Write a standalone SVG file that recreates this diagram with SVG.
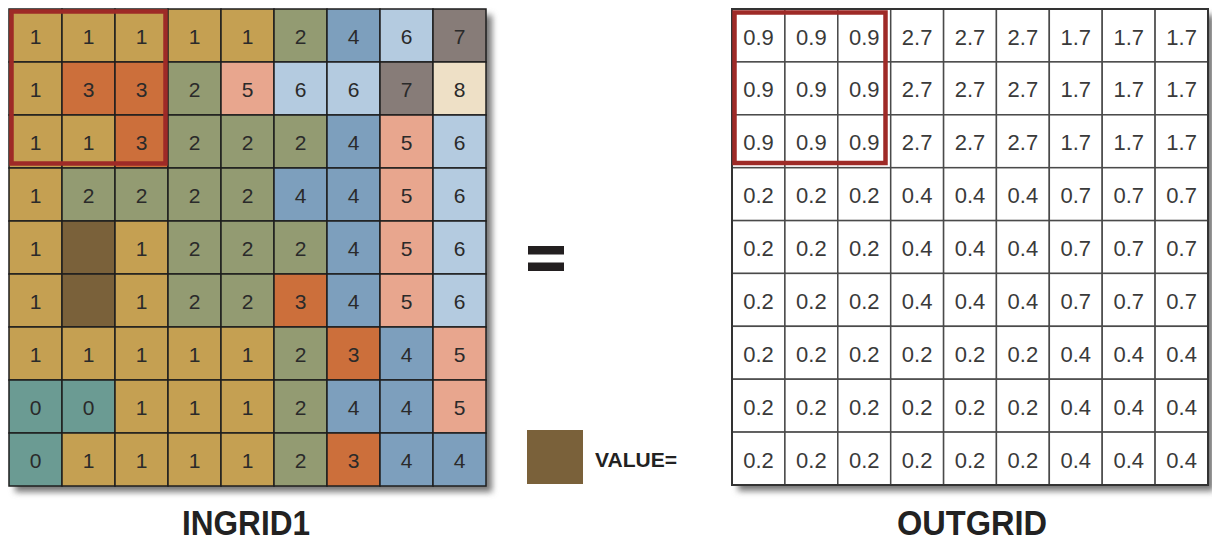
<svg xmlns="http://www.w3.org/2000/svg" width="1212" height="545" viewBox="0 0 1212 545">
<defs>
<filter id="sh" x="-10%" y="-10%" width="120%" height="120%"><feGaussianBlur stdDeviation="3"/></filter>
<style>
.c0{fill:#6b9b93}.c1{fill:#c5a052}.c2{fill:#939b72}.c3{fill:#cc6f3b}.c4{fill:#7d9fbd}.c5{fill:#e8a68e}.c6{fill:#b4cbe0}.c7{fill:#877c78}.c8{fill:#eee0c6}.cn{fill:#7a613a}
.lg rect{stroke:#1e1e1e;stroke-width:1.5}
.rg rect{fill:#fff;stroke:#4a4a4a;stroke-width:1.5}
.lt{font-family:"Liberation Sans",Arial,sans-serif;font-size:21px;fill:#2a2a2a;text-anchor:middle}
.rt{font-family:"Liberation Sans",Arial,sans-serif;font-size:22px;fill:#3a3a3a;text-anchor:middle}
.ttl{font-family:"Liberation Sans",Arial,sans-serif;font-size:35px;font-weight:bold;fill:#222}
.red{fill:none;stroke:#9e2a27;stroke-width:4.5}
</style>
</defs>
<rect width="1212" height="545" fill="#fff"/>
<g id="ingrid1">
<rect x="15" y="15" width="477" height="477" fill="#777" filter="url(#sh)"/>
<g class="lg">
<rect class="c1" x="9" y="9" width="53" height="53"/><rect class="c1" x="62" y="9" width="53" height="53"/><rect class="c1" x="115" y="9" width="53" height="53"/><rect class="c1" x="168" y="9" width="53" height="53"/><rect class="c1" x="221" y="9" width="53" height="53"/><rect class="c2" x="274" y="9" width="53" height="53"/><rect class="c4" x="327" y="9" width="53" height="53"/><rect class="c6" x="380" y="9" width="53" height="53"/><rect class="c7" x="433" y="9" width="53" height="53"/>
<rect class="c1" x="9" y="62" width="53" height="53"/><rect class="c3" x="62" y="62" width="53" height="53"/><rect class="c3" x="115" y="62" width="53" height="53"/><rect class="c2" x="168" y="62" width="53" height="53"/><rect class="c5" x="221" y="62" width="53" height="53"/><rect class="c6" x="274" y="62" width="53" height="53"/><rect class="c6" x="327" y="62" width="53" height="53"/><rect class="c7" x="380" y="62" width="53" height="53"/><rect class="c8" x="433" y="62" width="53" height="53"/>
<rect class="c1" x="9" y="115" width="53" height="53"/><rect class="c1" x="62" y="115" width="53" height="53"/><rect class="c3" x="115" y="115" width="53" height="53"/><rect class="c2" x="168" y="115" width="53" height="53"/><rect class="c2" x="221" y="115" width="53" height="53"/><rect class="c2" x="274" y="115" width="53" height="53"/><rect class="c4" x="327" y="115" width="53" height="53"/><rect class="c5" x="380" y="115" width="53" height="53"/><rect class="c6" x="433" y="115" width="53" height="53"/>
<rect class="c1" x="9" y="168" width="53" height="53"/><rect class="c2" x="62" y="168" width="53" height="53"/><rect class="c2" x="115" y="168" width="53" height="53"/><rect class="c2" x="168" y="168" width="53" height="53"/><rect class="c2" x="221" y="168" width="53" height="53"/><rect class="c4" x="274" y="168" width="53" height="53"/><rect class="c4" x="327" y="168" width="53" height="53"/><rect class="c5" x="380" y="168" width="53" height="53"/><rect class="c6" x="433" y="168" width="53" height="53"/>
<rect class="c1" x="9" y="221" width="53" height="53"/><rect class="cn" x="62" y="221" width="53" height="53"/><rect class="c1" x="115" y="221" width="53" height="53"/><rect class="c2" x="168" y="221" width="53" height="53"/><rect class="c2" x="221" y="221" width="53" height="53"/><rect class="c2" x="274" y="221" width="53" height="53"/><rect class="c4" x="327" y="221" width="53" height="53"/><rect class="c5" x="380" y="221" width="53" height="53"/><rect class="c6" x="433" y="221" width="53" height="53"/>
<rect class="c1" x="9" y="274" width="53" height="53"/><rect class="cn" x="62" y="274" width="53" height="53"/><rect class="c1" x="115" y="274" width="53" height="53"/><rect class="c2" x="168" y="274" width="53" height="53"/><rect class="c2" x="221" y="274" width="53" height="53"/><rect class="c3" x="274" y="274" width="53" height="53"/><rect class="c4" x="327" y="274" width="53" height="53"/><rect class="c5" x="380" y="274" width="53" height="53"/><rect class="c6" x="433" y="274" width="53" height="53"/>
<rect class="c1" x="9" y="327" width="53" height="53"/><rect class="c1" x="62" y="327" width="53" height="53"/><rect class="c1" x="115" y="327" width="53" height="53"/><rect class="c1" x="168" y="327" width="53" height="53"/><rect class="c1" x="221" y="327" width="53" height="53"/><rect class="c2" x="274" y="327" width="53" height="53"/><rect class="c3" x="327" y="327" width="53" height="53"/><rect class="c4" x="380" y="327" width="53" height="53"/><rect class="c5" x="433" y="327" width="53" height="53"/>
<rect class="c0" x="9" y="380" width="53" height="53"/><rect class="c0" x="62" y="380" width="53" height="53"/><rect class="c1" x="115" y="380" width="53" height="53"/><rect class="c1" x="168" y="380" width="53" height="53"/><rect class="c1" x="221" y="380" width="53" height="53"/><rect class="c2" x="274" y="380" width="53" height="53"/><rect class="c4" x="327" y="380" width="53" height="53"/><rect class="c4" x="380" y="380" width="53" height="53"/><rect class="c5" x="433" y="380" width="53" height="53"/>
<rect class="c0" x="9" y="433" width="53" height="53"/><rect class="c1" x="62" y="433" width="53" height="53"/><rect class="c1" x="115" y="433" width="53" height="53"/><rect class="c1" x="168" y="433" width="53" height="53"/><rect class="c1" x="221" y="433" width="53" height="53"/><rect class="c2" x="274" y="433" width="53" height="53"/><rect class="c3" x="327" y="433" width="53" height="53"/><rect class="c4" x="380" y="433" width="53" height="53"/><rect class="c4" x="433" y="433" width="53" height="53"/>
</g>
<g class="lt">
<text x="35.5" y="44">1</text><text x="88.5" y="44">1</text><text x="141.5" y="44">1</text><text x="194.5" y="44">1</text><text x="247.5" y="44">1</text><text x="300.5" y="44">2</text><text x="353.5" y="44">4</text><text x="406.5" y="44">6</text><text x="459.5" y="44">7</text>
<text x="35.5" y="97">1</text><text x="88.5" y="97">3</text><text x="141.5" y="97">3</text><text x="194.5" y="97">2</text><text x="247.5" y="97">5</text><text x="300.5" y="97">6</text><text x="353.5" y="97">6</text><text x="406.5" y="97">7</text><text x="459.5" y="97">8</text>
<text x="35.5" y="150">1</text><text x="88.5" y="150">1</text><text x="141.5" y="150">3</text><text x="194.5" y="150">2</text><text x="247.5" y="150">2</text><text x="300.5" y="150">2</text><text x="353.5" y="150">4</text><text x="406.5" y="150">5</text><text x="459.5" y="150">6</text>
<text x="35.5" y="203">1</text><text x="88.5" y="203">2</text><text x="141.5" y="203">2</text><text x="194.5" y="203">2</text><text x="247.5" y="203">2</text><text x="300.5" y="203">4</text><text x="353.5" y="203">4</text><text x="406.5" y="203">5</text><text x="459.5" y="203">6</text>
<text x="35.5" y="256">1</text><text x="141.5" y="256">1</text><text x="194.5" y="256">2</text><text x="247.5" y="256">2</text><text x="300.5" y="256">2</text><text x="353.5" y="256">4</text><text x="406.5" y="256">5</text><text x="459.5" y="256">6</text>
<text x="35.5" y="309">1</text><text x="141.5" y="309">1</text><text x="194.5" y="309">2</text><text x="247.5" y="309">2</text><text x="300.5" y="309">3</text><text x="353.5" y="309">4</text><text x="406.5" y="309">5</text><text x="459.5" y="309">6</text>
<text x="35.5" y="362">1</text><text x="88.5" y="362">1</text><text x="141.5" y="362">1</text><text x="194.5" y="362">1</text><text x="247.5" y="362">1</text><text x="300.5" y="362">2</text><text x="353.5" y="362">3</text><text x="406.5" y="362">4</text><text x="459.5" y="362">5</text>
<text x="35.5" y="415">0</text><text x="88.5" y="415">0</text><text x="141.5" y="415">1</text><text x="194.5" y="415">1</text><text x="247.5" y="415">1</text><text x="300.5" y="415">2</text><text x="353.5" y="415">4</text><text x="406.5" y="415">4</text><text x="459.5" y="415">5</text>
<text x="35.5" y="468">0</text><text x="88.5" y="468">1</text><text x="141.5" y="468">1</text><text x="194.5" y="468">1</text><text x="247.5" y="468">1</text><text x="300.5" y="468">2</text><text x="353.5" y="468">3</text><text x="406.5" y="468">4</text><text x="459.5" y="468">4</text>
</g>
<rect class="red" x="11.5" y="11.5" width="154" height="152"/>
</g>
<g id="equals" fill="#231f20">
<rect x="528" y="246" width="36" height="8.5"/>
<rect x="528" y="262.5" width="36" height="8.5"/>
</g>
<g id="legend">
<rect x="527" y="430" width="56" height="54" fill="#7a613a"/>
<text class="ttl" x="595" y="467" font-size="19.5" textLength="82" lengthAdjust="spacingAndGlyphs" style="font-size:19.5px">VALUE=</text>
</g>
<g id="outgrid">
<rect x="738" y="15" width="476" height="476" fill="#777" filter="url(#sh)"/>
<g class="rg">
<rect x="732" y="9" width="52.9" height="52.9"/><rect x="784.9" y="9" width="52.9" height="52.9"/><rect x="837.8" y="9" width="52.9" height="52.9"/><rect x="890.7" y="9" width="52.9" height="52.9"/><rect x="943.6" y="9" width="52.9" height="52.9"/><rect x="996.4" y="9" width="52.9" height="52.9"/><rect x="1049.3" y="9" width="52.9" height="52.9"/><rect x="1102.2" y="9" width="52.9" height="52.9"/><rect x="1155.1" y="9" width="52.9" height="52.9"/>
<rect x="732" y="61.9" width="52.9" height="52.9"/><rect x="784.9" y="61.9" width="52.9" height="52.9"/><rect x="837.8" y="61.9" width="52.9" height="52.9"/><rect x="890.7" y="61.9" width="52.9" height="52.9"/><rect x="943.6" y="61.9" width="52.9" height="52.9"/><rect x="996.4" y="61.9" width="52.9" height="52.9"/><rect x="1049.3" y="61.9" width="52.9" height="52.9"/><rect x="1102.2" y="61.9" width="52.9" height="52.9"/><rect x="1155.1" y="61.9" width="52.9" height="52.9"/>
<rect x="732" y="114.8" width="52.9" height="52.9"/><rect x="784.9" y="114.8" width="52.9" height="52.9"/><rect x="837.8" y="114.8" width="52.9" height="52.9"/><rect x="890.7" y="114.8" width="52.9" height="52.9"/><rect x="943.6" y="114.8" width="52.9" height="52.9"/><rect x="996.4" y="114.8" width="52.9" height="52.9"/><rect x="1049.3" y="114.8" width="52.9" height="52.9"/><rect x="1102.2" y="114.8" width="52.9" height="52.9"/><rect x="1155.1" y="114.8" width="52.9" height="52.9"/>
<rect x="732" y="167.7" width="52.9" height="52.9"/><rect x="784.9" y="167.7" width="52.9" height="52.9"/><rect x="837.8" y="167.7" width="52.9" height="52.9"/><rect x="890.7" y="167.7" width="52.9" height="52.9"/><rect x="943.6" y="167.7" width="52.9" height="52.9"/><rect x="996.4" y="167.7" width="52.9" height="52.9"/><rect x="1049.3" y="167.7" width="52.9" height="52.9"/><rect x="1102.2" y="167.7" width="52.9" height="52.9"/><rect x="1155.1" y="167.7" width="52.9" height="52.9"/>
<rect x="732" y="220.6" width="52.9" height="52.9"/><rect x="784.9" y="220.6" width="52.9" height="52.9"/><rect x="837.8" y="220.6" width="52.9" height="52.9"/><rect x="890.7" y="220.6" width="52.9" height="52.9"/><rect x="943.6" y="220.6" width="52.9" height="52.9"/><rect x="996.4" y="220.6" width="52.9" height="52.9"/><rect x="1049.3" y="220.6" width="52.9" height="52.9"/><rect x="1102.2" y="220.6" width="52.9" height="52.9"/><rect x="1155.1" y="220.6" width="52.9" height="52.9"/>
<rect x="732" y="273.4" width="52.9" height="52.9"/><rect x="784.9" y="273.4" width="52.9" height="52.9"/><rect x="837.8" y="273.4" width="52.9" height="52.9"/><rect x="890.7" y="273.4" width="52.9" height="52.9"/><rect x="943.6" y="273.4" width="52.9" height="52.9"/><rect x="996.4" y="273.4" width="52.9" height="52.9"/><rect x="1049.3" y="273.4" width="52.9" height="52.9"/><rect x="1102.2" y="273.4" width="52.9" height="52.9"/><rect x="1155.1" y="273.4" width="52.9" height="52.9"/>
<rect x="732" y="326.3" width="52.9" height="52.9"/><rect x="784.9" y="326.3" width="52.9" height="52.9"/><rect x="837.8" y="326.3" width="52.9" height="52.9"/><rect x="890.7" y="326.3" width="52.9" height="52.9"/><rect x="943.6" y="326.3" width="52.9" height="52.9"/><rect x="996.4" y="326.3" width="52.9" height="52.9"/><rect x="1049.3" y="326.3" width="52.9" height="52.9"/><rect x="1102.2" y="326.3" width="52.9" height="52.9"/><rect x="1155.1" y="326.3" width="52.9" height="52.9"/>
<rect x="732" y="379.2" width="52.9" height="52.9"/><rect x="784.9" y="379.2" width="52.9" height="52.9"/><rect x="837.8" y="379.2" width="52.9" height="52.9"/><rect x="890.7" y="379.2" width="52.9" height="52.9"/><rect x="943.6" y="379.2" width="52.9" height="52.9"/><rect x="996.4" y="379.2" width="52.9" height="52.9"/><rect x="1049.3" y="379.2" width="52.9" height="52.9"/><rect x="1102.2" y="379.2" width="52.9" height="52.9"/><rect x="1155.1" y="379.2" width="52.9" height="52.9"/>
<rect x="732" y="432.1" width="52.9" height="52.9"/><rect x="784.9" y="432.1" width="52.9" height="52.9"/><rect x="837.8" y="432.1" width="52.9" height="52.9"/><rect x="890.7" y="432.1" width="52.9" height="52.9"/><rect x="943.6" y="432.1" width="52.9" height="52.9"/><rect x="996.4" y="432.1" width="52.9" height="52.9"/><rect x="1049.3" y="432.1" width="52.9" height="52.9"/><rect x="1102.2" y="432.1" width="52.9" height="52.9"/><rect x="1155.1" y="432.1" width="52.9" height="52.9"/>
</g>
<rect x="732" y="9" width="476" height="476" fill="none" stroke="#333" stroke-width="2"/>
<g class="rt">
<text x="758.5" y="44.5">0.9</text><text x="811.4" y="44.5">0.9</text><text x="864.3" y="44.5">0.9</text><text x="917.1" y="44.5">2.7</text><text x="970" y="44.5">2.7</text><text x="1022.9" y="44.5">2.7</text><text x="1075.8" y="44.5">1.7</text><text x="1128.7" y="44.5">1.7</text><text x="1181.6" y="44.5">1.7</text>
<text x="758.5" y="97.4">0.9</text><text x="811.4" y="97.4">0.9</text><text x="864.3" y="97.4">0.9</text><text x="917.1" y="97.4">2.7</text><text x="970" y="97.4">2.7</text><text x="1022.9" y="97.4">2.7</text><text x="1075.8" y="97.4">1.7</text><text x="1128.7" y="97.4">1.7</text><text x="1181.6" y="97.4">1.7</text>
<text x="758.5" y="150.3">0.9</text><text x="811.4" y="150.3">0.9</text><text x="864.3" y="150.3">0.9</text><text x="917.1" y="150.3">2.7</text><text x="970" y="150.3">2.7</text><text x="1022.9" y="150.3">2.7</text><text x="1075.8" y="150.3">1.7</text><text x="1128.7" y="150.3">1.7</text><text x="1181.6" y="150.3">1.7</text>
<text x="758.5" y="203.2">0.2</text><text x="811.4" y="203.2">0.2</text><text x="864.3" y="203.2">0.2</text><text x="917.1" y="203.2">0.4</text><text x="970" y="203.2">0.4</text><text x="1022.9" y="203.2">0.4</text><text x="1075.8" y="203.2">0.7</text><text x="1128.7" y="203.2">0.7</text><text x="1181.6" y="203.2">0.7</text>
<text x="758.5" y="256.1">0.2</text><text x="811.4" y="256.1">0.2</text><text x="864.3" y="256.1">0.2</text><text x="917.1" y="256.1">0.4</text><text x="970" y="256.1">0.4</text><text x="1022.9" y="256.1">0.4</text><text x="1075.8" y="256.1">0.7</text><text x="1128.7" y="256.1">0.7</text><text x="1181.6" y="256.1">0.7</text>
<text x="758.5" y="308.9">0.2</text><text x="811.4" y="308.9">0.2</text><text x="864.3" y="308.9">0.2</text><text x="917.1" y="308.9">0.4</text><text x="970" y="308.9">0.4</text><text x="1022.9" y="308.9">0.4</text><text x="1075.8" y="308.9">0.7</text><text x="1128.7" y="308.9">0.7</text><text x="1181.6" y="308.9">0.7</text>
<text x="758.5" y="361.8">0.2</text><text x="811.4" y="361.8">0.2</text><text x="864.3" y="361.8">0.2</text><text x="917.1" y="361.8">0.2</text><text x="970" y="361.8">0.2</text><text x="1022.9" y="361.8">0.2</text><text x="1075.8" y="361.8">0.4</text><text x="1128.7" y="361.8">0.4</text><text x="1181.6" y="361.8">0.4</text>
<text x="758.5" y="414.7">0.2</text><text x="811.4" y="414.7">0.2</text><text x="864.3" y="414.7">0.2</text><text x="917.1" y="414.7">0.2</text><text x="970" y="414.7">0.2</text><text x="1022.9" y="414.7">0.2</text><text x="1075.8" y="414.7">0.4</text><text x="1128.7" y="414.7">0.4</text><text x="1181.6" y="414.7">0.4</text>
<text x="758.5" y="467.6">0.2</text><text x="811.4" y="467.6">0.2</text><text x="864.3" y="467.6">0.2</text><text x="917.1" y="467.6">0.2</text><text x="970" y="467.6">0.2</text><text x="1022.9" y="467.6">0.2</text><text x="1075.8" y="467.6">0.4</text><text x="1128.7" y="467.6">0.4</text><text x="1181.6" y="467.6">0.4</text>
</g>
<rect class="red" x="734.5" y="12.5" width="151" height="150.5"/>
</g>
<g id="titles">
<text class="ttl" x="182" y="535" textLength="128" lengthAdjust="spacingAndGlyphs">INGRID1</text>
<text class="ttl" x="897" y="535" textLength="150" lengthAdjust="spacingAndGlyphs">OUTGRID</text>
</g>
</svg>
